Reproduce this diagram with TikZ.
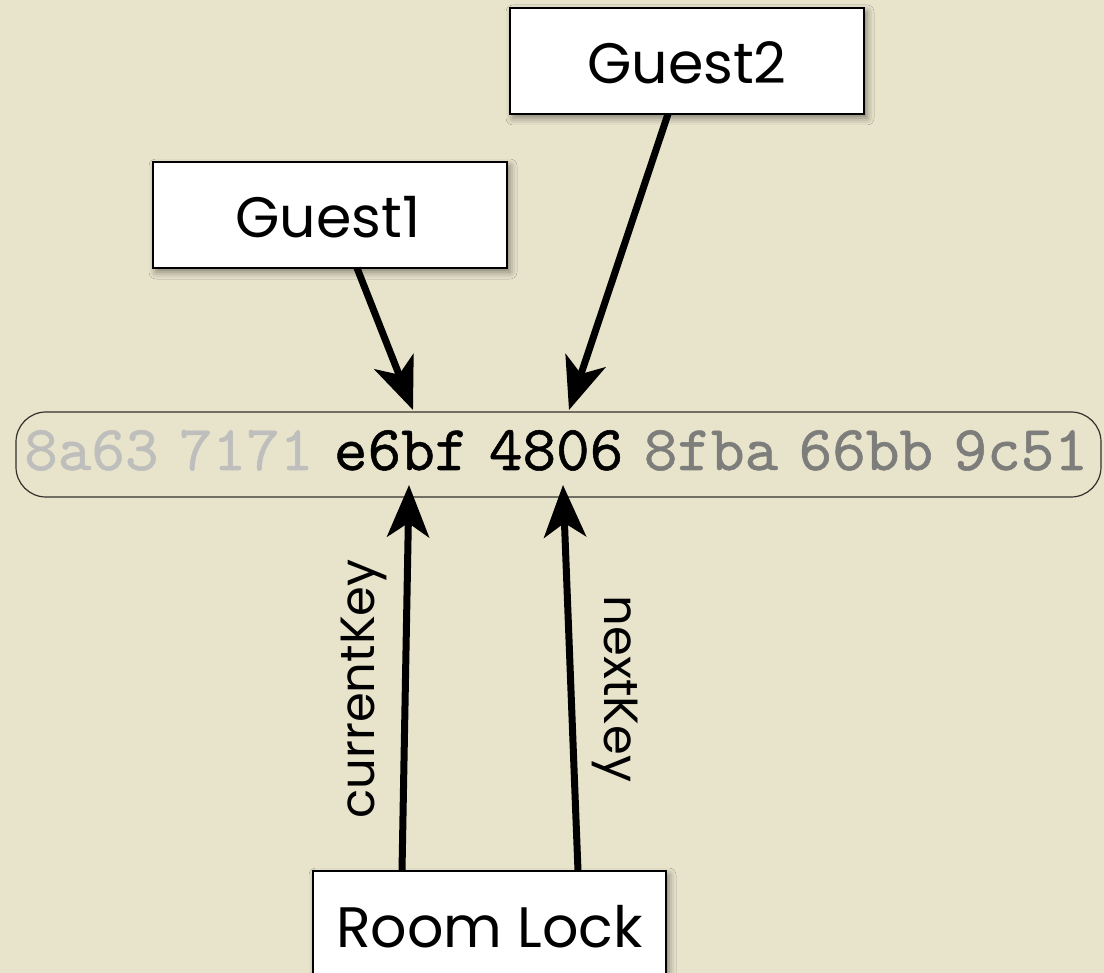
\documentclass[tikz,border=0pt]{standalone}
\usepackage{fontspec}
\newfontfamily\lblfont{Poppins}
\newfontfamily\hexfont[FakeBold=0.8]{lmmono10-regular.otf}
\usetikzlibrary{arrows.meta,shadows.blur}
\definecolor{bg}{RGB}{232,227,203}
\definecolor{hexlight}{RGB}{190,190,188}
\definecolor{hexmid}{RGB}{125,125,123}
\definecolor{stripline}{RGB}{50,50,45}
\newcommand{\hexgap}{\hspace{20.5pt}}
\begin{document}
\begin{tikzpicture}[x=1pt,y=-1pt,
  box/.style={draw=black, line width=2pt, fill=white, inner sep=0pt,
    minimum width=354pt, minimum height=106pt,
    blur shadow={shadow xshift=3pt, shadow yshift=-4pt, shadow blur radius=7pt, shadow opacity=45}},
  boxtext/.style={font=\lblfont\fontsize{57}{60}\selectfont, inner sep=0pt},
  keytext/.style={font=\lblfont\fontsize{48}{50}\selectfont, inner sep=0pt},
  arr/.style={line width=7pt, -{Stealth[length=52pt,width=42pt,inset=14pt]}},
  stripbox/.style={draw=stripline, line width=1.2pt, rounded corners=30pt,
    minimum width=1085pt, minimum height=85pt, inner sep=0pt},
  hexstyle/.style={font=\hexfont\fontsize{64}{66}\selectfont, inner sep=0pt}
]
\fill[bg] (0,0) rectangle (1104,973);
\useasboundingbox (0,0) rectangle (1104,973);

% hex strip
\node[stripbox] (strip) at (558.5,454.5) {};
\node[hexstyle, anchor=base west] (hex) at (24,470)
  {\textcolor{hexlight}{8a63\hexgap 7171}\hexgap\textcolor{black}{e6bf\hexgap 4806}\hexgap\textcolor{hexmid}{8fba\hexgap 66bb\hexgap 9c51}};

% boxes
\node[box] (g1) at (330,215) {};
\node[boxtext] (g1t) at (328,217) {Guest1};
\node[box] (g2) at (687,61) {};
\node[boxtext] (g2t) at (687,63) {Guest2};
\node[box, minimum height=128pt, minimum width=353pt] (lock) at (489.5,935) {};
\node[boxtext] (lockt) at (489.5,927) {Room Lock};

% arrow end points
\coordinate (a1s) at (357,268);
\coordinate (a1e) at (413,410);
\coordinate (a2s) at (668,114);
\coordinate (a2e) at (569,410);
\coordinate (a3s) at (402,871);
\coordinate (a3e) at (409,485);
\coordinate (a4s) at (578,871);
\coordinate (a4e) at (563,485);

\draw[arr] (a1s) -- (a1e);
\draw[arr] (a2s) -- (a2e);
\draw[arr] (a3s) -- (a3e);
\draw[arr] (a4s) -- (a4e);

\node[keytext, rotate=90] (ck) at (364,689) {currentKey};
\node[keytext, rotate=-90] (nk) at (615,689) {nextKey};
\end{tikzpicture}
\end{document}
